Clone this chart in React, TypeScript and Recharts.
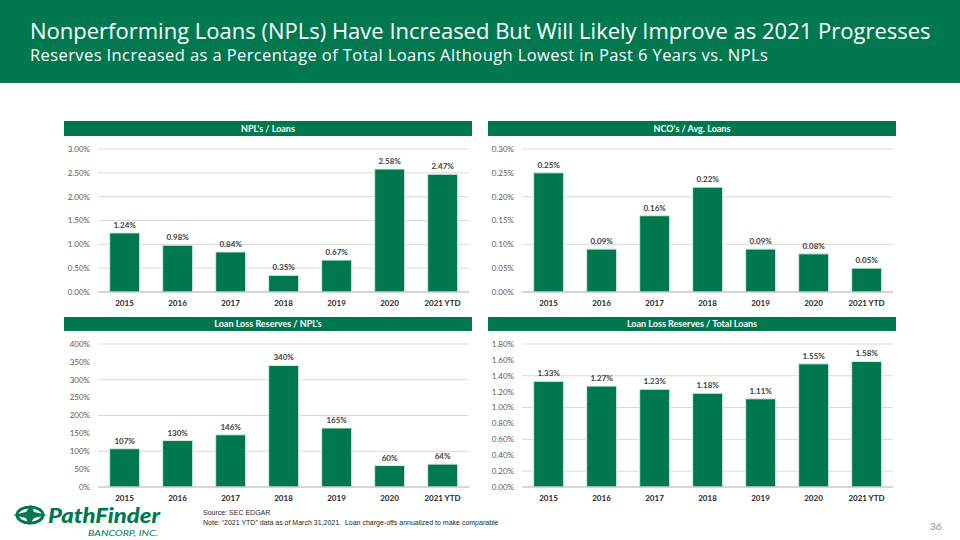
import React from "react";
import {
  Bar,
  BarChart,
  CartesianGrid,
  LabelList,
  XAxis,
  YAxis,
} from "recharts";

const GREEN = "#00784F";
const FONT = "Lato, 'Open Sans', sans-serif";

const YEARS = ["2015", "2016", "2017", "2018", "2019", "2020", "2021 YTD"];

const NPL_LOANS = [1.24, 0.98, 0.84, 0.35, 0.67, 2.58, 2.47];
const NCO_AVG_LOANS = [0.25, 0.09, 0.16, 0.22, 0.09, 0.08, 0.05];
const LLR_NPLS = [107, 130, 146, 340, 165, 60, 64];
const LLR_TOTAL_LOANS = [1.33, 1.27, 1.23, 1.18, 1.11, 1.55, 1.58];

const NPL_TICKS = [0, 0.5, 1, 1.5, 2, 2.5, 3];
const NCO_TICKS = [0, 0.05, 0.1, 0.15, 0.2, 0.25, 0.3];
const LLR_NPL_TICKS = [0, 50, 100, 150, 200, 250, 300, 350, 400];
const LLR_LOAN_TICKS = [0, 0.2, 0.4, 0.6, 0.8, 1, 1.2, 1.4, 1.6, 1.8];

interface PanelProps {
  title: string;
  values: number[];
  ticks: number[];
  decimals: number;
  titleBox: { left: number; top: number; width: number; height: number };
  plot: { x0: number; x1: number; y0: number; y1: number };
}

function Panel({ title, values, ticks, decimals, titleBox, plot }: PanelProps) {
  const data = YEARS.map((year, i) => ({ year, value: values[i] }));
  const fmt = (v: number) => `${Number(v).toFixed(decimals)}%`;
  const left = plot.x0 - 60;
  const top = plot.y0 - 10;
  const width = plot.x1 - left + 4;
  const height = plot.y1 - top + 22;

  return (
    <>
      <div
        style={{
          position: "absolute",
          ...titleBox,
          background: GREEN,
          color: "#fff",
          fontFamily: FONT,
          fontWeight: 700,
          fontSize: 9,
          lineHeight: `${titleBox.height}px`,
          textAlign: "center",
        }}
      >
        {title}
      </div>
      <div style={{ position: "absolute", left, top }}>
        <BarChart
          width={width}
          height={height}
          data={data}
          margin={{ top: 10, right: 4, left: 0, bottom: 0 }}
          barCategoryGap="22%"
        >
          <CartesianGrid vertical={false} stroke="#d9d9d9" />
          <XAxis
            dataKey="year"
            height={22}
            tickLine={false}
            stroke="#bfbfbf"
            interval={0}
            tick={{ fontSize: 8, fontWeight: 700, fill: "#262626", fontFamily: FONT }}
          />
          <YAxis
            width={60}
            domain={[ticks[0], ticks[ticks.length - 1]]}
            ticks={ticks}
            axisLine={false}
            tickLine={false}
            tickFormatter={(v) => fmt(v)}
            tick={{ fontSize: 8, fill: "#595959", fontFamily: FONT }}
          />
          <Bar
            dataKey="value"
            fill={GREEN}
            stroke="#d6eee0"
            strokeWidth={1}
            isAnimationActive={false}
          >
            <LabelList
              dataKey="value"
              position="top"
              offset={5}
              formatter={(v: number) => fmt(v)}
              style={{ fontSize: 8, fontWeight: 700, fill: "#404040", fontFamily: FONT }}
            />
          </Bar>
        </BarChart>
      </div>
    </>
  );
}

function Logo() {
  return (
    <svg
      width={180}
      height={40}
      style={{ position: "absolute", left: 0, top: 500, overflow: "visible" }}
    >
      <g transform="translate(30,15)" fill={GREEN}>
        <ellipse rx={13} ry={8} fill="none" stroke={GREEN} strokeWidth={3} />
        <path d="M1,-10 L4,-3 L17,0 L4,3 L-1,10 L-4,3 L-17,0 L-4,-3 Z" />
      </g>
      <text
        x={48}
        y={23}
        fontFamily={FONT}
        fontStyle="italic"
        fontWeight={900}
        fontSize={20}
        textLength={112}
        lengthAdjust="spacingAndGlyphs"
        fill={GREEN}
      >
        PathFinder
      </text>
      <text
        x={88}
        y={35.5}
        fontFamily={FONT}
        fontStyle="italic"
        fontSize={8}
        textLength={70}
        lengthAdjust="spacingAndGlyphs"
        fill={GREEN}
      >
        BANCORP, INC.
      </text>
    </svg>
  );
}

export default function App() {
  return (
    <div
      style={{
        position: "absolute",
        left: 0,
        top: 0,
        width: 960,
        height: 540,
        background: "#fff",
        overflow: "hidden",
      }}
    >
      <div
        style={{
          position: "absolute",
          left: 0,
          top: 0,
          width: 960,
          height: 83,
          background: GREEN,
        }}
      />
      <div
        style={{
          position: "absolute",
          left: 30,
          top: 16,
          color: "#fff",
          fontFamily: "'Open Sans', Lato, sans-serif",
          fontSize: 22,
          lineHeight: "28px",
          whiteSpace: "nowrap",
        }}
      >
        Nonperforming Loans (NPLs) Have Increased But Will Likely Improve as 2021 Progresses
      </div>
      <div
        style={{
          position: "absolute",
          left: 30,
          top: 45,
          color: "#fff",
          fontFamily: "'Open Sans', Lato, sans-serif",
          fontSize: 16.5,
          lineHeight: "20px",
          whiteSpace: "nowrap",
          letterSpacing: 0.4,
        }}
      >
        Reserves Increased as a Percentage of Total Loans Although Lowest in Past 6 Years vs. NPLs
      </div>

      <Panel
        title="NPL's / Loans"
        values={NPL_LOANS}
        ticks={NPL_TICKS}
        decimals={2}
        titleBox={{ left: 64, top: 121, width: 408, height: 15 }}
        plot={{ x0: 98, x1: 469, y0: 149, y1: 292 }}
      />
      <Panel
        title="NCO's / Avg. Loans"
        values={NCO_AVG_LOANS}
        ticks={NCO_TICKS}
        decimals={2}
        titleBox={{ left: 488, top: 121, width: 408, height: 15 }}
        plot={{ x0: 522, x1: 893, y0: 149, y1: 292 }}
      />
      <Panel
        title="Loan Loss Reserves / NPL's"
        values={LLR_NPLS}
        ticks={LLR_NPL_TICKS}
        decimals={0}
        titleBox={{ left: 64, top: 317, width: 408, height: 14 }}
        plot={{ x0: 98, x1: 469, y0: 344, y1: 487 }}
      />
      <Panel
        title="Loan Loss Reserves / Total Loans"
        values={LLR_TOTAL_LOANS}
        ticks={LLR_LOAN_TICKS}
        decimals={2}
        titleBox={{ left: 488, top: 317, width: 408, height: 14 }}
        plot={{ x0: 522, x1: 893, y0: 344, y1: 487 }}
      />

      <Logo />
      <div
        style={{
          position: "absolute",
          left: 203,
          top: 508,
          fontFamily: "'Liberation Sans', Arial, sans-serif",
          fontSize: 7,
          lineHeight: "10px",
          color: "#262626",
          whiteSpace: "nowrap",
        }}
      >
        <div>Source: SEC EDGAR</div>
        <div>
          Note: “2021 YTD” data as of March 31,2021.&nbsp; Loan charge-offs annualized to make comparable
        </div>
      </div>
      <div
        style={{
          position: "absolute",
          left: 930,
          top: 520,
          fontFamily: FONT,
          fontSize: 10,
          color: "#8c8c8c",
        }}
      >
        36
      </div>
    </div>
  );
}
